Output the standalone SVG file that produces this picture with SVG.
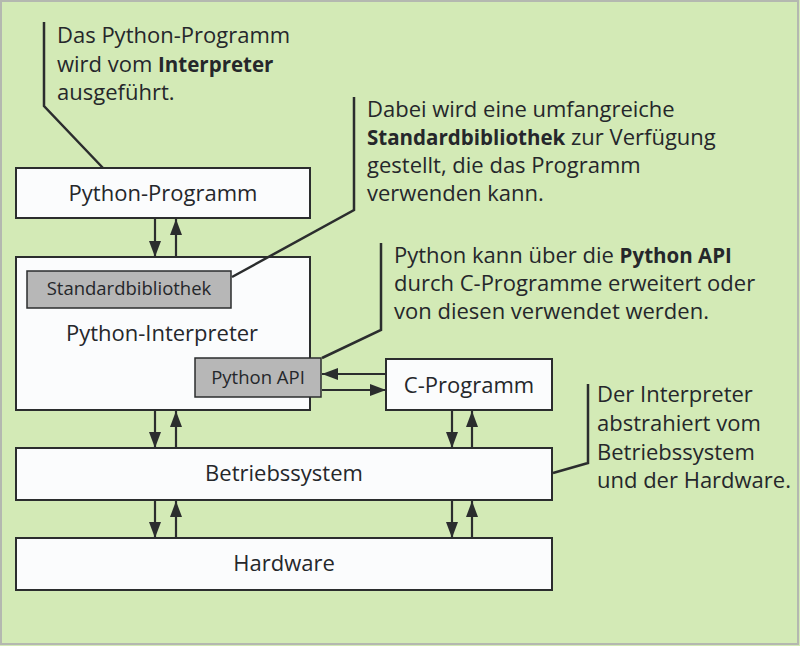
<svg xmlns="http://www.w3.org/2000/svg" width="800" height="646" viewBox="0 0 800 646">
<style>
  .box { fill: #fbfcfd; stroke: #2b2d2e; stroke-width: 2; }
  .lib { fill: #b7b7b7; stroke: #2b2d2e; stroke-width: 1.5; }
  .lbl { font-family: "Open Sans", "Noto Sans", sans-serif; font-size: 22px; fill: #25272b; }
  .lbs { font-family: "Open Sans", "Noto Sans", sans-serif; font-size: 18.5px; fill: #25272b; }
  .note { font-family: "Open Sans", "Noto Sans", sans-serif; font-size: 22px; fill: #25272b; }
  .b { font-weight: bold; font-size: 20.5px; }
  .lead { fill: none; stroke: #2b2d2e; stroke-width: 2.5; }
  .arr { stroke: #2b2d2e; stroke-width: 2.2; marker-end: url(#ah); }
</style>
<defs>
  <marker id="ah" markerUnits="userSpaceOnUse" markerWidth="16" markerHeight="12" refX="16" refY="6" orient="auto">
    <path d="M0,0 L16,6 L0,12 z" fill="#2b2d2e"/>
  </marker>
</defs>
<rect x="0" y="0" width="800" height="646" fill="#d3eab6"/>
<rect x="1" y="1" width="797" height="643" fill="none" stroke="#b4b8b0" stroke-width="2"/>

<g id="python-programm">
  <rect class="box" x="16" y="168" width="294" height="50"/>
  <text class="lbl" x="163" y="201" text-anchor="middle">Python-Programm</text>
</g>
<g id="python-interpreter">
  <rect class="box" x="16" y="257" width="294" height="153"/>
  <text class="lbl" x="162" y="341" text-anchor="middle">Python-Interpreter</text>
</g>
<g id="standardbibliothek">
  <rect class="lib" x="27" y="271" width="204" height="37"/>
  <text class="lbs" x="129" y="295" text-anchor="middle">Standardbibliothek</text>
</g>
<g id="python-api">
  <rect class="lib" x="195" y="358" width="126" height="39"/>
  <text class="lbs" x="258" y="384" text-anchor="middle">Python API</text>
</g>
<g id="c-programm">
  <rect class="box" x="386" y="359" width="166" height="51"/>
  <text class="lbl" x="469" y="393" text-anchor="middle">C-Programm</text>
</g>
<g id="betriebssystem">
  <rect class="box" x="16" y="448" width="536" height="52"/>
  <text class="lbl" x="284" y="481" text-anchor="middle">Betriebssystem</text>
</g>
<g id="hardware">
  <rect class="box" x="16" y="538" width="536" height="52"/>
  <text class="lbl" x="284" y="571" text-anchor="middle">Hardware</text>
</g>

<g id="connectors">
  <line class="arr" x1="155" y1="219" x2="155" y2="257"/>
  <line class="arr" x1="176" y1="257" x2="176" y2="219"/>
  <line class="arr" x1="155" y1="411" x2="155" y2="448"/>
  <line class="arr" x1="176" y1="448" x2="176" y2="411"/>
  <line class="arr" x1="155" y1="501" x2="155" y2="538"/>
  <line class="arr" x1="176" y1="538" x2="176" y2="501"/>
  <line class="arr" x1="452" y1="411" x2="452" y2="448"/>
  <line class="arr" x1="472" y1="448" x2="472" y2="411"/>
  <line class="arr" x1="452" y1="501" x2="452" y2="538"/>
  <line class="arr" x1="472" y1="538" x2="472" y2="501"/>
  <line class="arr" x1="386" y1="374" x2="322" y2="374"/>
  <line class="arr" x1="322" y1="390" x2="386" y2="390"/>
</g>

<g id="leaders">
  <polyline class="lead" points="44,22 44,106 103,168"/>
  <polyline class="lead" points="354,97 354,210 232,277"/>
  <polyline class="lead" points="381,243 381,330 322,358"/>
  <polyline class="lead" points="588,384 588,463 553,473"/>
</g>

<g id="note-1">
  <text class="note" x="57" y="43">Das Python-Programm</text>
  <text class="note" x="57" y="72">wird vom <tspan class="b">Interpreter</tspan></text>
  <text class="note" x="57" y="100">ausgeführt.</text>
</g>
<g id="note-2">
  <text class="note" x="367" y="117">Dabei wird eine umfangreiche</text>
  <text class="note" x="367" y="145"><tspan class="b">Standardbibliothek</tspan> zur Verfügung</text>
  <text class="note" x="367" y="173">gestellt, die das Programm</text>
  <text class="note" x="367" y="201">verwenden kann.</text>
</g>
<g id="note-3">
  <text class="note" x="394" y="263">Python kann über die <tspan class="b">Python API</tspan></text>
  <text class="note" x="394" y="291">durch C-Programme erweitert oder</text>
  <text class="note" x="394" y="319">von diesen verwendet werden.</text>
</g>
<g id="note-4">
  <text class="note" x="597" y="402">Der Interpreter</text>
  <text class="note" x="597" y="431">abstrahiert vom</text>
  <text class="note" x="597" y="460">Betriebssystem</text>
  <text class="note" x="597" y="488">und der Hardware.</text>
</g>
</svg>
